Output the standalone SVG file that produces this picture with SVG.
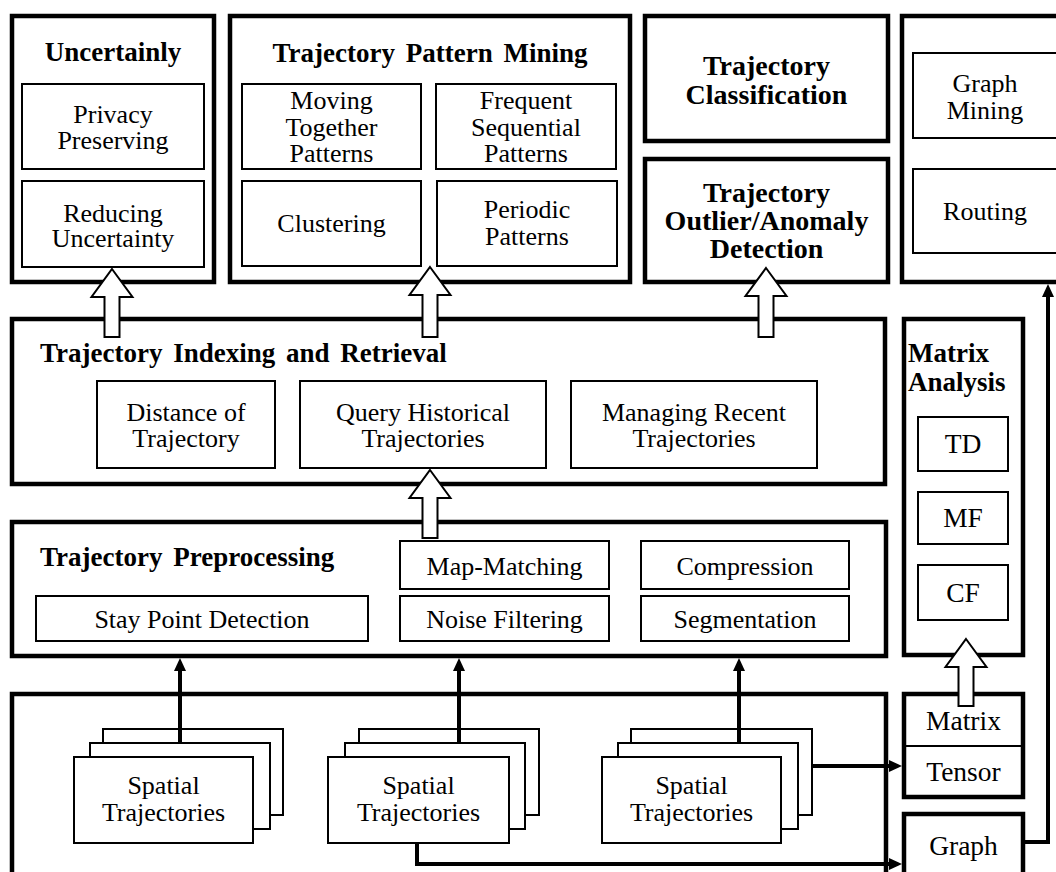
<svg xmlns="http://www.w3.org/2000/svg" width="1056" height="872" viewBox="0 0 1056 872">
<style>
.outer{fill:#fff;stroke:#000;stroke-width:4.5}
.inner{fill:#fff;stroke:#000;stroke-width:2}
.t{font-family:"Liberation Serif","Times New Roman",serif;font-size:26px;text-anchor:middle;fill:#000}
.b{font-weight:bold;font-size:27px;word-spacing:4px}
.b28{font-weight:bold;font-size:28px}
.m{font-size:27.5px}
.l{text-anchor:start}
.blk{fill:#fff;stroke:#000;stroke-width:2;stroke-linejoin:miter}
.conn{fill:none;stroke:#000;stroke-width:4}
</style>
<defs>
<marker id="ah" markerUnits="userSpaceOnUse" markerWidth="13" markerHeight="12" refX="4" refY="6" orient="auto" viewBox="0 0 13 12">
<path d="M0,0 L13,6 L0,12 z" fill="#000"/>
</marker>
</defs>
<rect width="1056" height="872" fill="#fff"/>

<g id="uncertainly">
<rect class="outer" x="12" y="16" width="202" height="266"/>
<text class="t b" x="113" y="61">Uncertainly</text>
<rect class="inner" x="22" y="84" width="182" height="85"/>
<text class="t" x="113" y="123">Privacy</text>
<text class="t" x="113" y="149">Preserving</text>
<rect class="inner" x="22" y="181" width="182" height="86"/>
<text class="t" x="113" y="222">Reducing</text>
<text class="t" x="113" y="247">Uncertainty</text>
</g>

<g id="pattern-mining">
<rect class="outer" x="230" y="16" width="400" height="266"/>
<text class="t b" x="430" y="62">Trajectory Pattern Mining</text>
<rect class="inner" x="242" y="84" width="179" height="85"/>
<text class="t" x="331.5" y="109">Moving</text>
<text class="t" x="331.5" y="135.5">Together</text>
<text class="t" x="331.5" y="162">Patterns</text>
<rect class="inner" x="436" y="84" width="180" height="85"/>
<text class="t" x="526" y="109">Frequent</text>
<text class="t" x="526" y="135.5">Sequential</text>
<text class="t" x="526" y="162">Patterns</text>
<rect class="inner" x="242" y="181" width="179" height="85"/>
<text class="t" x="331.5" y="232">Clustering</text>
<rect class="inner" x="437" y="181" width="180" height="85"/>
<text class="t" x="527" y="218">Periodic</text>
<text class="t" x="527" y="245">Patterns</text>
</g>

<g id="classification">
<rect class="outer" x="645" y="16" width="243" height="125"/>
<text class="t b28" x="766.5" y="75">Trajectory</text>
<text class="t b28" x="766.5" y="104">Classification</text>
</g>

<g id="outlier">
<rect class="outer" x="645" y="159" width="243" height="123"/>
<text class="t b28" x="766.5" y="202">Trajectory</text>
<text class="t b28" x="766.5" y="230">Outlier/Anomaly</text>
<text class="t b28" x="766.5" y="258">Detection</text>
</g>

<g id="graph-apps">
<rect class="outer" x="902" y="16" width="170" height="266"/>
<rect class="inner" x="913" y="53" width="150" height="85"/>
<text class="t" x="985" y="92">Graph</text>
<text class="t" x="985" y="119">Mining</text>
<rect class="inner" x="913" y="169" width="150" height="84"/>
<text class="t" x="985" y="220">Routing</text>
</g>

<g id="indexing">
<rect class="outer" x="12" y="319" width="873" height="165"/>
<text class="t b l" x="40" y="362">Trajectory  Indexing and Retrieval</text>
<rect class="inner" x="97" y="381" width="178" height="87"/>
<text class="t" x="186" y="421">Distance of</text>
<text class="t" x="186" y="447">Trajectory</text>
<rect class="inner" x="300" y="381" width="246" height="87"/>
<text class="t" x="423" y="421">Query Historical</text>
<text class="t" x="423" y="447">Trajectories</text>
<rect class="inner" x="571" y="381" width="246" height="87"/>
<text class="t" x="694" y="421">Managing Recent</text>
<text class="t" x="694" y="447">Trajectories</text>
</g>

<g id="matrix-analysis">
<rect class="outer" x="904" y="319" width="119" height="336"/>
<text class="t b l" x="908" y="362">Matrix</text>
<text class="t b l" x="908" y="391">Analysis</text>
<rect class="inner" x="918" y="417" width="90" height="54"/>
<text class="t m" x="963" y="453">TD</text>
<rect class="inner" x="918" y="492" width="90" height="52"/>
<text class="t m" x="963" y="527">MF</text>
<rect class="inner" x="918" y="565" width="90" height="55"/>
<text class="t m" x="963" y="602">CF</text>
</g>

<g id="preprocessing">
<rect class="outer" x="12" y="522" width="874" height="134"/>
<text class="t b l" x="40" y="566">Trajectory  Preprocessing</text>
<rect class="inner" x="36" y="596" width="332" height="45"/>
<text class="t" x="202" y="628">Stay Point Detection</text>
<rect class="inner" x="400" y="541" width="209" height="48"/>
<text class="t" x="504.5" y="575">Map-Matching</text>
<rect class="inner" x="400" y="596" width="209" height="45"/>
<text class="t" x="504.5" y="628">Noise Filtering</text>
<rect class="inner" x="641" y="541" width="208" height="48"/>
<text class="t" x="745" y="575">Compression</text>
<rect class="inner" x="641" y="596" width="208" height="45"/>
<text class="t" x="745" y="628">Segmentation</text>
</g>

<g id="data">
<rect class="outer" x="12" y="694" width="874" height="190"/>
</g>

<g id="stack1">
<rect class="inner" x="103" y="729" width="180" height="86"/>
<rect class="inner" x="90" y="743" width="180" height="86"/>
<rect class="inner" x="74" y="757" width="179" height="86"/>
<text class="t" x="163.5" y="794">Spatial</text>
<text class="t" x="163.5" y="821">Trajectories</text>
</g>
<g id="stack2">
<rect class="inner" x="359" y="729" width="180" height="86"/>
<rect class="inner" x="345" y="743" width="180" height="86"/>
<rect class="inner" x="328" y="757" width="181" height="86"/>
<text class="t" x="418.5" y="794">Spatial</text>
<text class="t" x="418.5" y="821">Trajectories</text>
</g>
<g id="stack3">
<rect class="inner" x="631" y="729" width="181" height="86"/>
<rect class="inner" x="618" y="743" width="180" height="86"/>
<rect class="inner" x="602" y="757" width="179" height="86"/>
<text class="t" x="691.5" y="794">Spatial</text>
<text class="t" x="691.5" y="821">Trajectories</text>
</g>

<g id="matrix-tensor">
<rect class="outer" x="904" y="694" width="119" height="103"/>
<line x1="904" y1="746" x2="1023" y2="746" stroke="#000" stroke-width="2"/>
<text class="t m" x="963.5" y="730">Matrix</text>
<text class="t m" x="963.5" y="781">Tensor</text>
</g>

<g id="graph">
<rect class="outer" x="904" y="814" width="119" height="70"/>
<text class="t m" x="963.5" y="855">Graph</text>
</g>

<g id="connectors">
<line class="conn" x1="180" y1="743" x2="180" y2="667" marker-end="url(#ah)"/>
<line class="conn" x1="459" y1="743" x2="459" y2="667" marker-end="url(#ah)"/>
<line class="conn" x1="739" y1="743" x2="739" y2="667" marker-end="url(#ah)"/>
<line class="conn" x1="812" y1="766" x2="893" y2="766" marker-end="url(#ah)"/>
<path class="conn" d="M417,843 V864 H893" marker-end="url(#ah)"/>
<path class="conn" d="M1023,842 H1048 V293" marker-end="url(#ah)"/>
<polygon class="blk" points="112,269 132.5,297 119.5,297 119.5,337 104.5,337 104.5,297 91.5,297"/>
<polygon class="blk" points="430,267 450.5,295 437.5,295 437.5,337 422.5,337 422.5,295 409.5,295"/>
<polygon class="blk" points="766,268 786.5,296 773.5,296 773.5,337 758.5,337 758.5,296 745.5,296"/>
<polygon class="blk" points="430,470 450.5,498 437.5,498 437.5,538 422.5,538 422.5,498 409.5,498"/>
<polygon class="blk" points="966,639 986.5,667 973.5,667 973.5,706 958.5,706 958.5,667 945.5,667"/>
</g>
</svg>
